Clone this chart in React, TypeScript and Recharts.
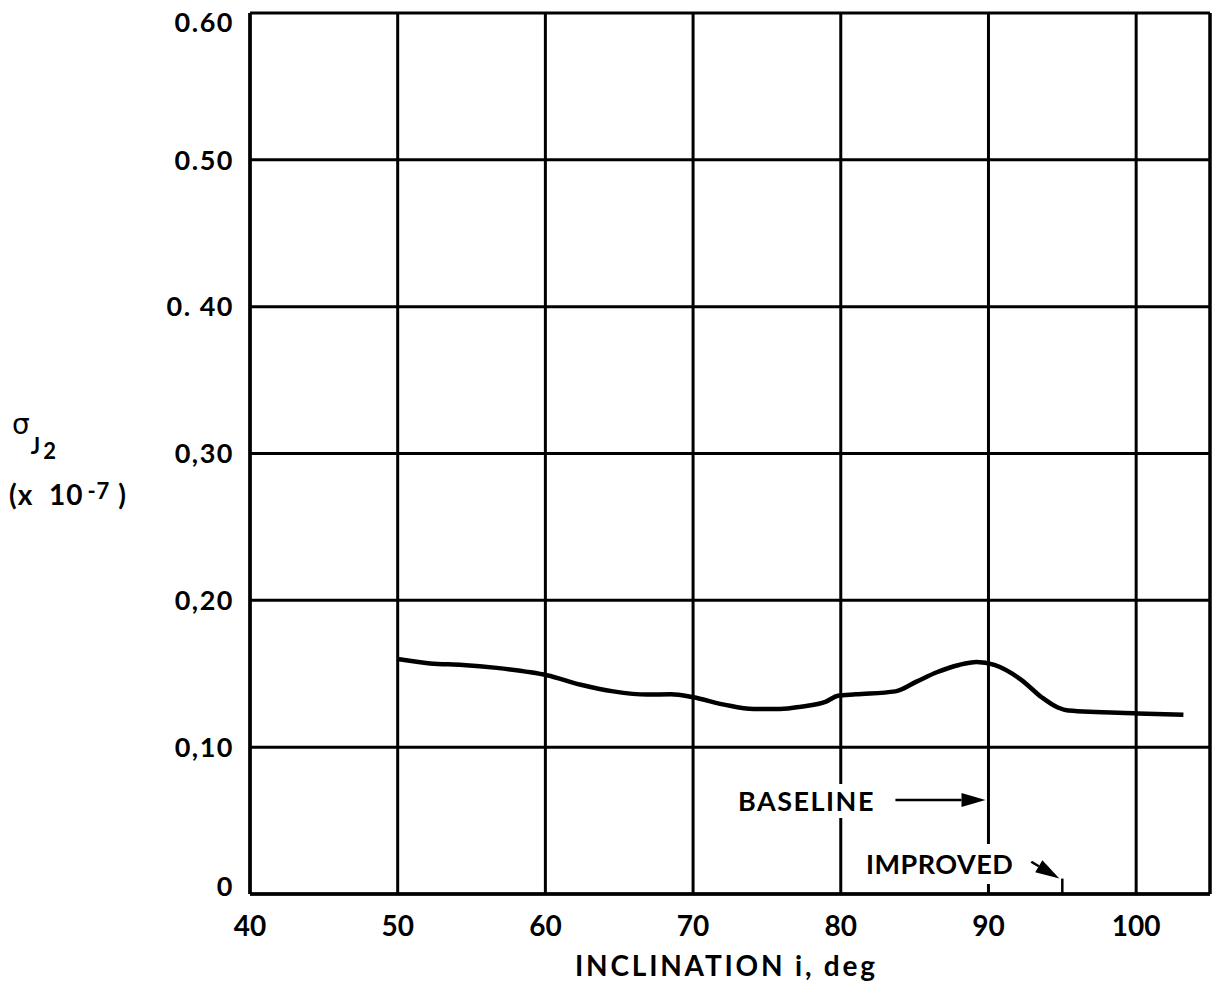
import { LineChart, Line, XAxis, YAxis, CartesianGrid, ReferenceLine } from "recharts";

const inclination = [50, 52.2, 54.4, 56.7, 59, 60.1, 62.4, 64.6, 66.9, 68.5, 70, 72.1, 74.1, 75.9, 77.3, 79, 79.8, 81, 83.7, 85.2, 86.5, 88, 89.2, 90.4, 92.2, 93.6, 94.7, 95.4, 100.1, 103.2];
const sigmaJ2 = [0.160, 0.157, 0.156, 0.154, 0.151, 0.149, 0.1425, 0.138, 0.1358, 0.136, 0.134, 0.129, 0.126, 0.126, 0.1275, 0.131, 0.135, 0.136, 0.138, 0.145, 0.151, 0.156, 0.158, 0.156, 0.146, 0.134, 0.127, 0.125, 0.123, 0.122];

const xTicks = [40, 50, 60, 70, 80, 90, 100];
const yTicks = [0, 0.1, 0.2, 0.3, 0.4, 0.5, 0.6];
const yTickLabels = ["0", "0,10", "0,20", "0,30", "0. 40", "0.50", "0.60"];

const chartData = inclination.map((x, i) => ({ x, y: sigmaJ2[i] }));

const FONT = "Lato, 'DejaVu Sans', sans-serif";

function Arrow(props: any) {
    const { x1, y1, x2, y2 } = props;
    const ang = Math.atan2(y2 - y1, x2 - x1);
    const len = 24;
    const w = 7;
    const bx = x2 - len * Math.cos(ang);
    const by = y2 - len * Math.sin(ang);
    const px = -Math.sin(ang) * w;
    const py = Math.cos(ang) * w;
    return (
        <g>
            <line x1={x1} y1={y1} x2={bx} y2={by} stroke="#000" strokeWidth={2.5} />
            <polygon points={`${x2},${y2} ${bx + px},${by + py} ${bx - px},${by - py}`} fill="#000" />
        </g>
    );
}

function Plain(props: any) {
    const { x1, y1, x2, y2 } = props;
    return <line x1={x1} y1={y1} x2={x2} y2={y2} stroke="#000" strokeWidth={2.5} />;
}

function YTick(props: any) {
    const { x, y, payload } = props;
    const v = payload.value as number;
    const idx = yTicks.findIndex((t) => Math.abs(t - v) < 1e-9);
    // top and bottom labels sit slightly inside the frame in the original
    const shift = v >= 0.6 ? 9 : v === 0 ? -8 : 0;
    return (
        <text x={x} y={y + shift} dy="0.36em" textAnchor="end" fill="#000" fontSize={27} fontWeight={700} fontFamily={FONT} letterSpacing={1.5}>
            {yTickLabels[idx] ?? String(v)}
        </text>
    );
}

export default function App() {
    return (
        <div style={{ position: 'absolute', left: 0, top: 0, width: 1214, height: 992, background: '#fff', fontFamily: FONT }}>
            <LineChart width={1214} height={992} data={chartData} margin={{ top: 13, right: 4, left: 0, bottom: 0 }}>
                <CartesianGrid stroke="#000" strokeWidth={3} strokeOpacity={1} />
                <XAxis
                    dataKey="x"
                    type="number"
                    domain={[40, 105]}
                    ticks={xTicks}
                    height={98}
                    tickLine={false}
                    tickMargin={16}
                    axisLine={{ stroke: '#000', strokeWidth: 3.5 }}
                    tick={{ fill: '#000', fontSize: 28, fontWeight: 700, fontFamily: FONT }}
                />
                <YAxis
                    type="number"
                    domain={[0, 0.6]}
                    ticks={yTicks}
                    width={250}
                    tickLine={false}
                    tickMargin={10}
                    axisLine={{ stroke: '#000', strokeWidth: 3.5 }}
                    tick={<YTick />}
                />
                <ReferenceLine x={105} stroke="#000" strokeWidth={3} />
                <ReferenceLine segment={[{ x: 83.7, y: 0.064 }, { x: 89.8, y: 0.064 }]} shape={<Arrow />} />
                <ReferenceLine segment={[{ x: 92.9, y: 0.022 }, { x: 94.8, y: 0.0105 }]} shape={<Arrow />} />
                <ReferenceLine segment={[{ x: 95, y: 0.0105 }, { x: 95, y: 0 }]} shape={<Plain />} />
                <Line type="monotone" dataKey="y" stroke="#000" strokeWidth={4.5} dot={false} isAnimationActive={false} />
            </LineChart>

            <div style={{ position: 'absolute', left: 734, top: 784, padding: '0 4px', background: '#fff', fontSize: 27, fontWeight: 700, letterSpacing: 1.5, lineHeight: '34px' }}>
                BASELINE
            </div>
            <div style={{ position: 'absolute', left: 862, top: 844, padding: '2px 4px', background: '#fff', fontSize: 27, fontWeight: 700, letterSpacing: 0.5, lineHeight: '36px' }}>
                IMPROVED
            </div>

            <div style={{ position: 'absolute', left: 12, top: 408, fontSize: 28, lineHeight: '30px', whiteSpace: 'nowrap' }}>
                <span style={{ fontFamily: "'DejaVu Sans', sans-serif" }}>σ</span>
                <span style={{ position: 'relative', top: 20, fontSize: 22, fontWeight: 700, marginLeft: 1 }}>J</span>
                <span style={{ position: 'relative', top: 25, fontSize: 22, fontWeight: 700, marginLeft: 3 }}>2</span>
            </div>
            <div style={{ position: 'absolute', left: 9, top: 477, fontSize: 28, fontWeight: 700, lineHeight: '34px', whiteSpace: 'nowrap', letterSpacing: 1 }}>
                (x&nbsp;&nbsp;10<sup style={{ fontSize: 22, verticalAlign: 'top', position: 'relative', top: -3, marginLeft: 4 }}>-7</sup>&nbsp;)
            </div>

            <div style={{ position: 'absolute', left: 575, top: 948, fontSize: 28, fontWeight: 700, letterSpacing: 2.8, whiteSpace: 'nowrap' }}>
                INCLINATION i, deg
            </div>
        </div>
    );
}
